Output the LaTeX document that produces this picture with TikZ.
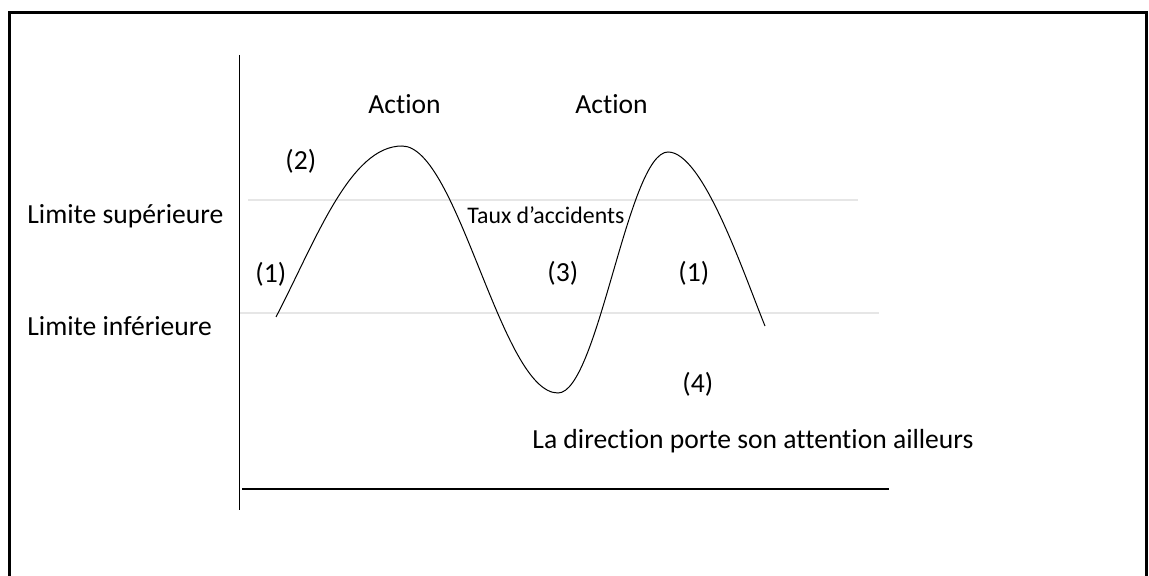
\documentclass[tikz,border=0pt]{standalone}
\usepackage{fontspec}
\setmainfont[Ligatures=NoCommon]{Carlito}
\definecolor{LimitGrey}{HTML}{E6E6E6}
\tikzset{
  lbl/.style={anchor=base west,inner sep=0pt,font=\fontsize{13.8}{16}\selectfont},
  smalllbl/.style={lbl,font=\fontsize{11.9}{14}\selectfont},
}
\begin{document}
\begin{tikzpicture}[x=0.5pt,y=-0.5pt]
  \useasboundingbox (0,0) rectangle (1149,576);
  % frame
  \draw[line width=1.5pt] (9,576) -- (9,13) -- (1146,13) -- (1146,576);
  % limits
  \draw[LimitGrey,line width=0.6pt] (248,200) -- (858,200);
  \draw[LimitGrey,line width=0.6pt] (240,313) -- (879,313);
  % axes
  \draw[line width=0.8pt] (239.5,55) -- (239.5,510);
  \draw[line width=0.8pt] (242,489) -- (889,489);
  % accident rate curve
  \draw[line width=0.5pt] (276,317)
    .. controls (316,240) and (350,146) .. (402,146)
    .. controls (458,146) and (501,393) .. (558,393)
    .. controls (598,393) and (628,152) .. (668,152)
    .. controls (703,152) and (743,272) .. (765,326);
  % labels
  \node[lbl] (sup) at (27,224) {Limite supérieure};
  \node[lbl] (inf) at (27,336) {Limite inférieure};
  \node[lbl] (actA) at (368,114) {Action};
  \node[lbl] (actB) at (575,114) {Action};
  \node[lbl] (stepB) at (285,170) {(2)};
  \node[lbl] (stepA) at (255,283) {(1)};
  \node[lbl] (stepC) at (547,282) {(3)};
  \node[lbl] (stepA2) at (678,282) {(1)};
  \node[lbl] (stepD) at (682,393) {(4)};
  \node[smalllbl] (taux) at (467,224) {Taux d’accidents};
  \node[lbl] (dir) at (532,448) {La direction porte son attention ailleurs};
\end{tikzpicture}
\end{document}
